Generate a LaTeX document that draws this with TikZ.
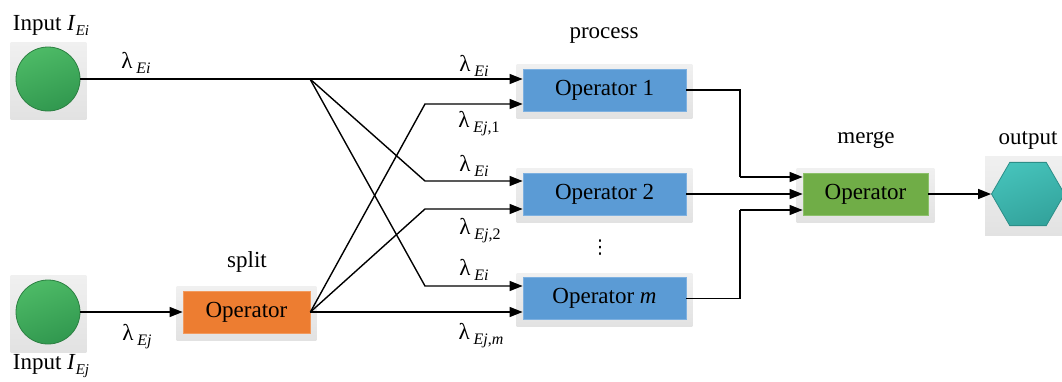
\documentclass[tikz,border=0pt]{standalone}
\usepackage{fontspec}
\setmainfont{Liberation Serif}
\newfontfamily\symfont{DejaVu Sans}
\usetikzlibrary{arrows.meta,shapes.geometric,calc}
\pgfdeclarelayer{bg}
\pgfsetlayers{bg,main}

\definecolor{opblue}{HTML}{5B9BD5}
\definecolor{opblueedge}{HTML}{7DB0E0}
\definecolor{oporange}{HTML}{ED7D31}
\definecolor{oporangeedge}{HTML}{F29A5E}
\definecolor{opgreen}{HTML}{70AD47}
\definecolor{opgreenedge}{HTML}{8CC06A}
\definecolor{srcHi}{HTML}{4DBA66}
\definecolor{srcLo}{HTML}{31984F}
\definecolor{srcEdge}{HTML}{2C8042}
\definecolor{sinkHi}{HTML}{45C2BA}
\definecolor{sinkLo}{HTML}{33A39C}
\definecolor{sinkEdge}{HTML}{2C8E88}
\definecolor{haloA}{HTML}{F0F0F0}
\definecolor{haloB}{HTML}{E2E2E2}

% flow label: lambda with a lowered, spaced subscript
\newcommand\lam[1]{{\fontsize{23}{26}\selectfont λ}\kern4pt\raisebox{-5pt}{\fontsize{16}{18}\selectfont #1}}
% input label with italic I and subscript
\newcommand\inlab[1]{Input \textit{I}\raisebox{-5pt}{\fontsize{15}{17}\selectfont\itshape #1}}
% soft grey backdrop behind a node
\newcommand\halo[5]{\fill[halo] ($(#1.west |- #1.north)+(-#2,#3)$) rectangle ($(#1.east |- #1.south)+(#4,-#5)$);}

\begin{document}
\begin{tikzpicture}[x=1pt,y=-1pt,
  txt/.style={inner sep=0pt,font=\fontsize{23}{26}\selectfont},
  opbox/.style={rectangle,inner sep=0pt,minimum height=42pt,line width=0.8pt,font=\fontsize{23}{26}\selectfont},
  procbox/.style={opbox,minimum width=163pt,fill=opblue,draw=opblueedge},
  source/.style={circle,inner sep=0pt,minimum size=64pt,line width=0.8pt,draw=srcEdge,
    shading=axis,top color=srcHi,bottom color=srcLo,shading angle=20},
  sink/.style={regular polygon,regular polygon sides=6,inner sep=0pt,minimum size=73pt,line width=0.8pt,
    draw=sinkEdge,shading=axis,top color=sinkHi,bottom color=sinkLo,shading angle=20},
  halo/.style={top color=haloA,bottom color=haloB},
  wire/.style={line width=1.4pt,black},
  arr/.style={wire,-{Triangle[length=13pt,width=10pt]}}]

\useasboundingbox (0,0) rectangle (1062,381);

% sources, operators and sink
\node[source] (in1) at (48,79) {};
\node[source] (in2) at (48,312) {};
\node[opbox,minimum width=127pt,fill=oporange,draw=oporangeedge] (split) at (246.5,312) {Operator};
\node[procbox] (op1) at (604.5,90) {Operator 1};
\node[procbox] (op2) at (604.5,194) {Operator 2};
\node[procbox] (opm) at (604.5,298.5) {Operator \textit{m}};
\node[opbox,minimum width=125pt,fill=opgreen,draw=opgreenedge] (merge) at (865.5,194) {Operator};
\node[sink] (out) at (1028,194) {};

\begin{pgfonlayer}{bg}
  \halo{in1}{5pt}{4pt}{6pt}{8pt}
  \halo{in2}{5pt}{4pt}{6pt}{8pt}
  \halo{split}{6pt}{4pt}{6pt}{7pt}
  \halo{op1}{6pt}{4pt}{6pt}{7pt}
  \halo{op2}{6pt}{4pt}{6pt}{7pt}
  \halo{opm}{6pt}{4pt}{6pt}{7pt}
  \halo{merge}{6pt}{4pt}{6pt}{7pt}
  \halo{out}{6pt}{5pt}{6pt}{9pt}
\end{pgfonlayer}

% captions
\node[txt] (capin1) at (51,25) {\inlab{Ei}};
\node[txt] (capin2) at (51,366) {\inlab{Ej}};
\node[txt] (capsplit) at (247,262) {split};
\node[txt] (capproc) at (604,36) {process};
\node[txt] (capmerge) at (866,140) {merge};
\node[txt] (capout) at (1028,140) {output};
\node[inner sep=0pt,font=\symfont\fontsize{19}{21}\selectfont] (dots) at (600,248) {⋮};

% flow labels
\node[inner sep=0pt] (lin1) at (136,63) {\lam{\itshape Ei}};
\node[inner sep=0pt] (lin2) at (137,337) {\lam{\itshape Ej}};
\node[inner sep=0pt] (l1a) at (474,66) {\lam{\itshape Ei}};
\node[inner sep=0pt] (l1b) at (479,124) {\lam{\textit{Ej},1}};
\node[inner sep=0pt] (l2a) at (474,166) {\lam{\itshape Ei}};
\node[inner sep=0pt] (l2b) at (480,231) {\lam{\textit{Ej},2}};
\node[inner sep=0pt] (lma) at (474,270) {\lam{\itshape Ei}};
\node[inner sep=0pt] (lmb) at (481,336) {\lam{\textit{Ej},\textit{m}}};

% branch and bend points
\coordinate (b1) at (310,79);
\coordinate (k1) at (425,104);
\coordinate (k2) at (425,181);
\coordinate (k3) at (425,209);
\coordinate (k4) at (425,286);
\coordinate (m1) at (740,177);
\coordinate (m3) at (740,210);

% input streams
\draw[arr] (in1.east) -- (op1.west |- in1);
\draw[arr] (in2.east) -- (split.west);

% broadcast of the first stream
\draw[arr] (b1) -- (k2) -- (op2.west |- k2);
\draw[arr] (b1) -- (k4) -- (opm.west |- k4);

% partitions of the second stream
\draw[arr] (split.east) -- (k1) -- (op1.west |- k1);
\draw[arr] (split.east) -- (k3) -- (op2.west |- k3);
\draw[arr] (split.east) -- (opm.west |- split.east);

% merging the results
\draw[wire] (op1.east) -| (m1);
\draw[arr] (m1) -- (merge.west |- m1);
\draw[arr] (op2.east) -- (merge.west);
\draw[wire] (opm.east) -| (m3);
\draw[arr] (m3) -- (merge.west |- m3);
\draw[arr] (merge.east) -- (out.west);

\end{tikzpicture}
\end{document}
